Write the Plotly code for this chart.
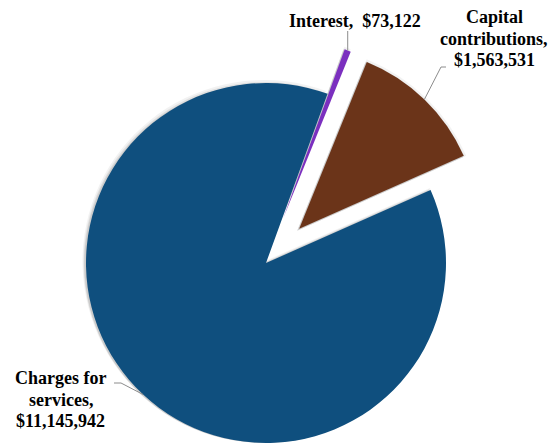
import math
import plotly.graph_objects as go

# Revenue sources (clockwise from the start angle)
categories = ["Interest", "Capital contributions", "Charges for services"]
values = [73122, 1563531, 11145942]
colors = ["#7B2FBF", "#6B3419", "#0F4F7E"]
pulls = [0.265, 0.265, 0.0]
label_lines = [
    ["Interest,&nbsp; $73,122"],
    ["Capital", "contributions,", "$1,563,531"],
    ["Charges for", "services,", "$11,145,942"],
]

W, H = 559, 443
CX, CY = 266, 263      # pie centre in pixels (y down)
R = 180                # pie radius in pixels
ROTATION = 20          # degrees clockwise from 12 o'clock
LINE_STEP = 21.5       # label line spacing in pixels

total = sum(values)
mids = []
acc = 0.0
for v in values:
    start = ROTATION + 360 * acc / total
    acc += v
    end = ROTATION + 360 * acc / total
    mids.append((start + end) / 2)


def polar(cx, cy, r, deg):
    a = math.radians(deg)
    return cx + r * math.sin(a), cy - r * math.cos(a)


def to_paper(px, py):
    return px / W, 1 - py / H


fig = go.Figure()

centers = []
for i, name in enumerate(categories):
    cx, cy = polar(CX, CY, pulls[i] * R, mids[i])
    centers.append((cx, cy))
    # soft drop shadow behind each slice
    for grow, alpha in [(5, 0.05), (3, 0.07), (1.5, 0.09)]:
        sc = ["rgba(0,0,0,0)"] * len(values)
        sc[i] = f"rgba(0,0,0,{alpha})"
        sx, sy = cx - 2, cy + 2
        rr = R + grow
        fig.add_trace(go.Pie(
            values=values, labels=categories, sort=False, direction="clockwise",
            rotation=ROTATION, textinfo="none", hoverinfo="skip", showlegend=False,
            marker=dict(colors=sc, line=dict(width=0)),
            domain=dict(x=[max(0, (sx - rr) / W), min(1, (sx + rr) / W)],
                        y=[max(0, (H - sy - rr) / H), min(1, (H - sy + rr) / H)]),
        ))

for i, name in enumerate(categories):
    cx, cy = centers[i]
    sc = ["rgba(0,0,0,0)"] * len(values)
    sc[i] = colors[i]
    fig.add_trace(go.Pie(
        values=values, labels=categories, sort=False, direction="clockwise",
        rotation=ROTATION, textinfo="none", hoverinfo="label+value",
        showlegend=False,
        marker=dict(colors=sc, line=dict(width=0)),
        domain=dict(x=[max(0, (cx - R) / W), min(1, (cx + R) / W)],
                    y=[max(0, (H - cy - R) / H), min(1, (H - cy + R) / H)]),
    ))

font = dict(family="Liberation Serif", size=18, color="black", weight="bold")
# centre x and first-line y of each label block (pixels)
label_pos = [(355, 21), (494, 17), (61, 378)]
for (lx, ly), lines in zip(label_pos, label_lines):
    for j, txt in enumerate(lines):
        x, y = to_paper(lx, ly + j * LINE_STEP)
        fig.add_annotation(x=x, y=y, xref="paper", yref="paper", text=txt,
                           showarrow=False, font=font, align="center",
                           xanchor="center", yanchor="middle")

# leader lines from each slice's outer edge to its label
edge = [polar(centers[i][0], centers[i][1], R, mids[i]) for i in range(3)]
paths = [
    [edge[0], (edge[0][0], 31)],
    [edge[1], (441, 67), (446, 67)],
    [edge[2], (121, 383), (114, 383)],
]
for pts in paths:
    d = "M " + " L ".join(f"{to_paper(px, py)[0]},{to_paper(px, py)[1]}" for px, py in pts)
    fig.add_shape(type="path", path=d, xref="paper", yref="paper",
                  line=dict(color="#8C8C8C", width=1))

fig.update_layout(width=W, height=H, margin=dict(l=0, r=0, t=0, b=0),
                  paper_bgcolor="white", plot_bgcolor="white")
fig.write_html("out.html")
